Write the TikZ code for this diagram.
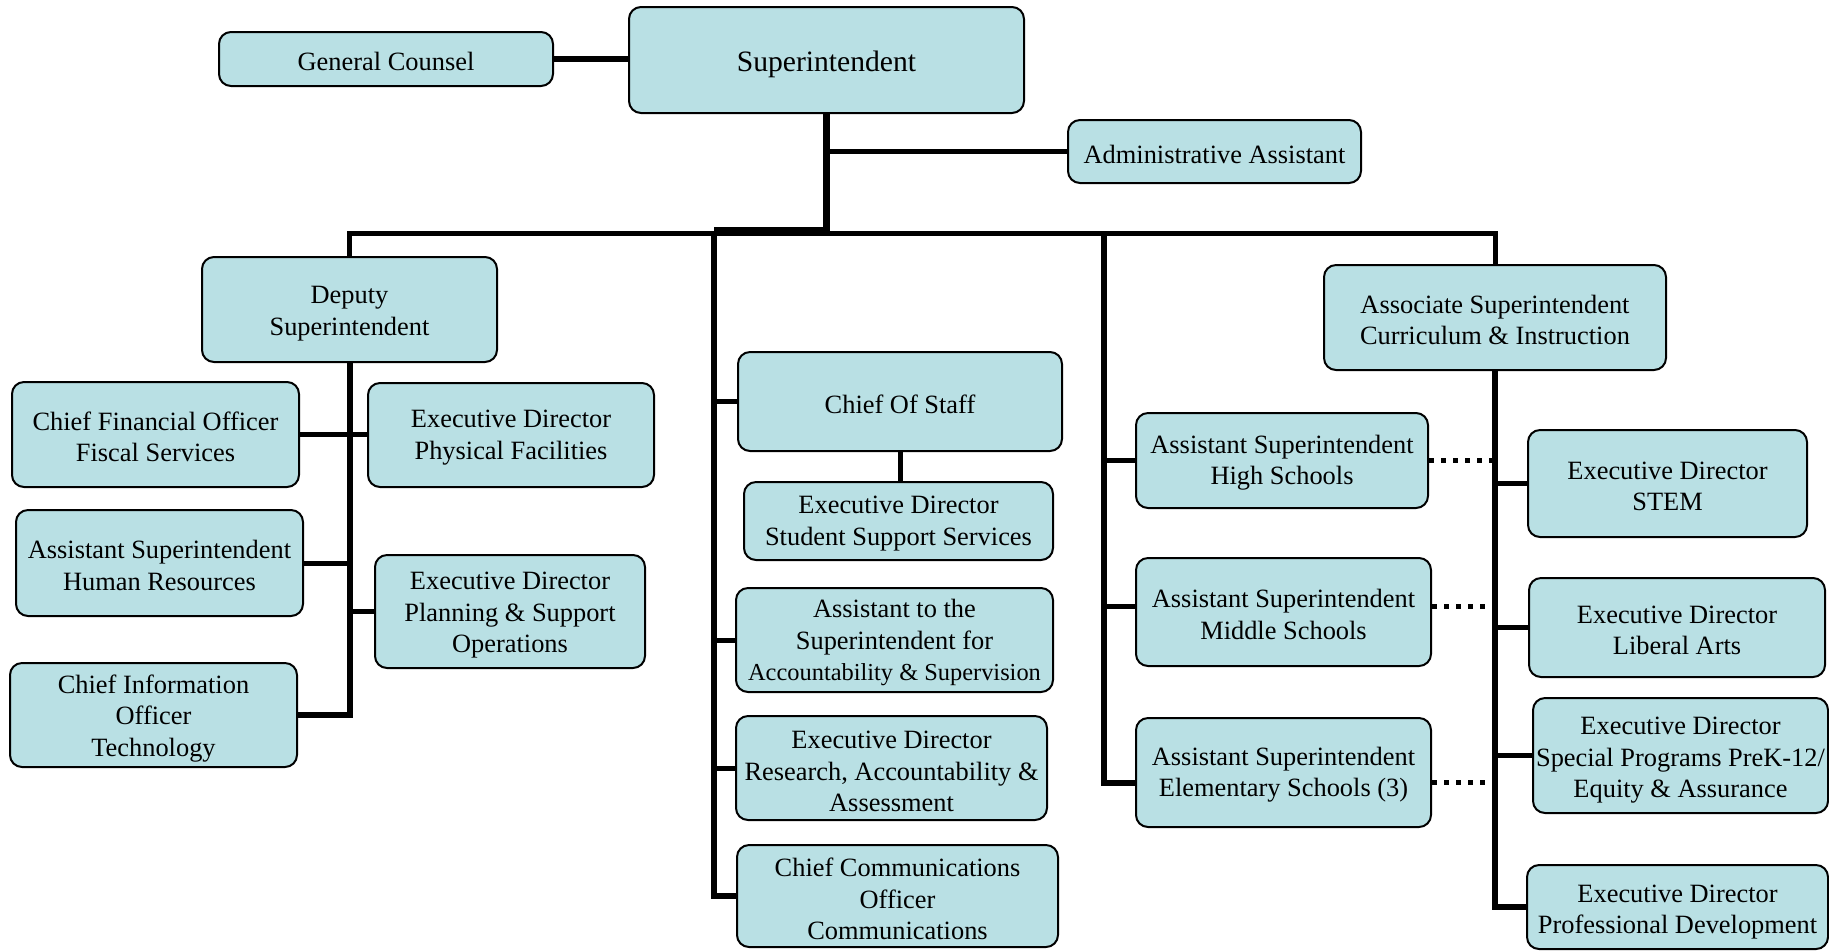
\documentclass[tikz,border=0pt]{standalone}
\usepackage{fontspec}
\setmainfont{Liberation Serif}
\usepackage{xcolor}
\usepackage{tikz}
\usetikzlibrary{positioning, calc}
\definecolor{boxfill}{RGB}{185,224,228}

\begin{document}
\begin{tikzpicture}[
    x=0.5pt, y=-0.5pt,
    box/.style={rectangle, rounded corners=6pt, draw=black, line width=1pt, fill=boxfill, align=center, inner sep=0pt, font=\fontsize{13.2}{15.75}\selectfont},
    oneline/.style={text height=12pt},
    twoline/.style={text height=27.2pt},
    threeline/.style={text height=44pt},
    trunk/.style={line width=3pt},
    branch/.style={line width=2.5pt},
    dotline/.style={line width=2.5pt, dash pattern=on 2.5pt off 3.5pt}
]
\useasboundingbox (0,0) rectangle (1829,950);

% top level
\node[box, minimum width=197.5pt, minimum height=53pt, font=\fontsize{14.8}{17}\selectfont, text height=14.5pt](supt) at (826.5,60){Superintendent};
\node[box, oneline, minimum width=167pt, minimum height=27pt](counsel) at (386,59){General Counsel};
\node[box, oneline, minimum width=146.5pt, minimum height=31.5pt](admin) at (1214.5,151.5){Administrative Assistant};
\coordinate (bus) at (0,233);
\coordinate (col2) at (714,233);
\coordinate (col3) at (1104,233);

% deputy branch
\node[box, twoline, text height=28.5pt, minimum width=147.5pt, minimum height=52.5pt](deputy) at (349.5,309.5){Deputy\\Superintendent};
\node[box, twoline, minimum width=143.5pt, minimum height=52.5pt](cfo) at (155.5,434.5){Chief Financial Officer\\Fiscal Services};
\node[box, twoline, minimum width=143pt, minimum height=52pt](facil) at (511,435){Executive Director\\Physical Facilities};
\node[box, twoline, minimum width=143.5pt, minimum height=53pt](hr) at (159.5,563){Assistant Superintendent\\Human Resources};
\node[box, threeline, minimum width=135pt, minimum height=56.5pt](plan) at (510,611.5){Executive Director\\Planning \& Support\\Operations};
\node[box, threeline, minimum width=143.5pt, minimum height=52pt](cio) at (153.5,715){Chief Information\\Officer\\Technology};

% staff column
\node[box, oneline, minimum width=162pt, minimum height=49.5pt](staff) at (900,401.5){Chief Of Staff};
\node[box, twoline, minimum width=154.5pt, minimum height=39pt](support) at (898.5,521){Executive Director\\Student Support Services};
\node[box, threeline, text height=43.5pt, minimum width=158.5pt, minimum height=52pt](accnt) at (894.5,640){Assistant to the\\Superintendent for\\{\fontsize{12.2}{15}\selectfont Accountability \& Supervision}};
\node[box, threeline, minimum width=155.5pt, minimum height=52pt](research) at (891.5,768){Executive Director\\Research, Accountability \&\\Assessment};
\node[box, threeline, minimum width=160.5pt, minimum height=51pt](comm) at (897.5,896){Chief Communications\\Officer\\Communications};

% schools column
\node[box, twoline, minimum width=146pt, minimum height=47.5pt](high) at (1282,460.5){Assistant Superintendent\\High Schools};
\node[box, twoline, minimum width=147.5pt, minimum height=54pt](middle) at (1283.5,612){Assistant Superintendent\\Middle Schools};
\node[box, twoline, minimum width=147.5pt, minimum height=54.5pt](elem) at (1283.5,772.5){Assistant Superintendent\\Elementary Schools (3)};

% curriculum branch
\node[box, twoline, minimum width=171pt, minimum height=52.5pt](assoc) at (1495,317.5){Associate Superintendent\\Curriculum \& Instruction};
\node[box, twoline, minimum width=139.5pt, minimum height=53.5pt](stem) at (1667.5,483.5){Executive Director\\STEM};
\node[box, twoline, minimum width=148pt, minimum height=49.5pt](libarts) at (1677,627.5){Executive Director\\Liberal Arts};
\node[box, threeline, text height=45pt, minimum width=147.5pt, minimum height=57.5pt](special) at (1680.5,755.5){Executive Director\\Special Programs PreK-12/\\Equity \& Assurance};
\node[box, twoline, text height=29.5pt, minimum width=150.5pt, minimum height=42pt](profdev) at (1677.5,907){Executive Director\\Professional Development};

% connectors
\draw[trunk] (counsel.east) -- (counsel.east -| supt.west);
\draw[line width=3.5pt] (supt.south) -- (supt.south |- bus);
\draw[branch] (supt.south |- admin.west) -- (admin.west);
\draw[branch] (deputy.north) |- (assoc.north |- bus) -- (assoc.north);
\draw[line width=4pt] ([yshift=1pt]col2) -- ([yshift=1pt]col2 -| supt.south);

\draw[trunk] (deputy.south) |- (cio.east);
\draw[branch] (cfo.east) -- (cfo.east -| facil.west);
\draw[branch] (hr.east) -- (hr.east -| deputy.south);
\draw[branch] (deputy.south |- plan.west) -- (plan.west);

\draw[trunk] (col2) |- (comm.west);
\draw[branch] (col2 |- staff.west) -- (staff.west);
\draw[branch] (staff.south) -- (staff.south |- support.north);
\draw[branch] (col2 |- accnt.west) -- (accnt.west);
\draw[branch] (col2 |- research.west) -- (research.west);

\draw[trunk] (col3) |- ([yshift=-5pt]elem.west);
\draw[branch] (col3 |- high.west) -- (high.west);
\draw[branch] ([yshift=3pt]middle.west -| col3) -- ([yshift=3pt]middle.west);

\draw[trunk] (assoc.south) |- (profdev.west);
\draw[branch] (assoc.south |- stem.west) -- (stem.west);
\draw[branch] (assoc.south |- libarts.west) -- (libarts.west);
\draw[branch] (assoc.south |- special.west) -- (special.west);

\draw[dotline] (high.east) -- (high.east -| assoc.south);
\draw[dotline] ([yshift=3pt]middle.east) -- ([yshift=3pt]middle.east -| assoc.south);
\draw[dotline] ([yshift=-5pt]elem.east) -- ([yshift=-5pt]elem.east -| assoc.south);
\end{tikzpicture}
\end{document}
